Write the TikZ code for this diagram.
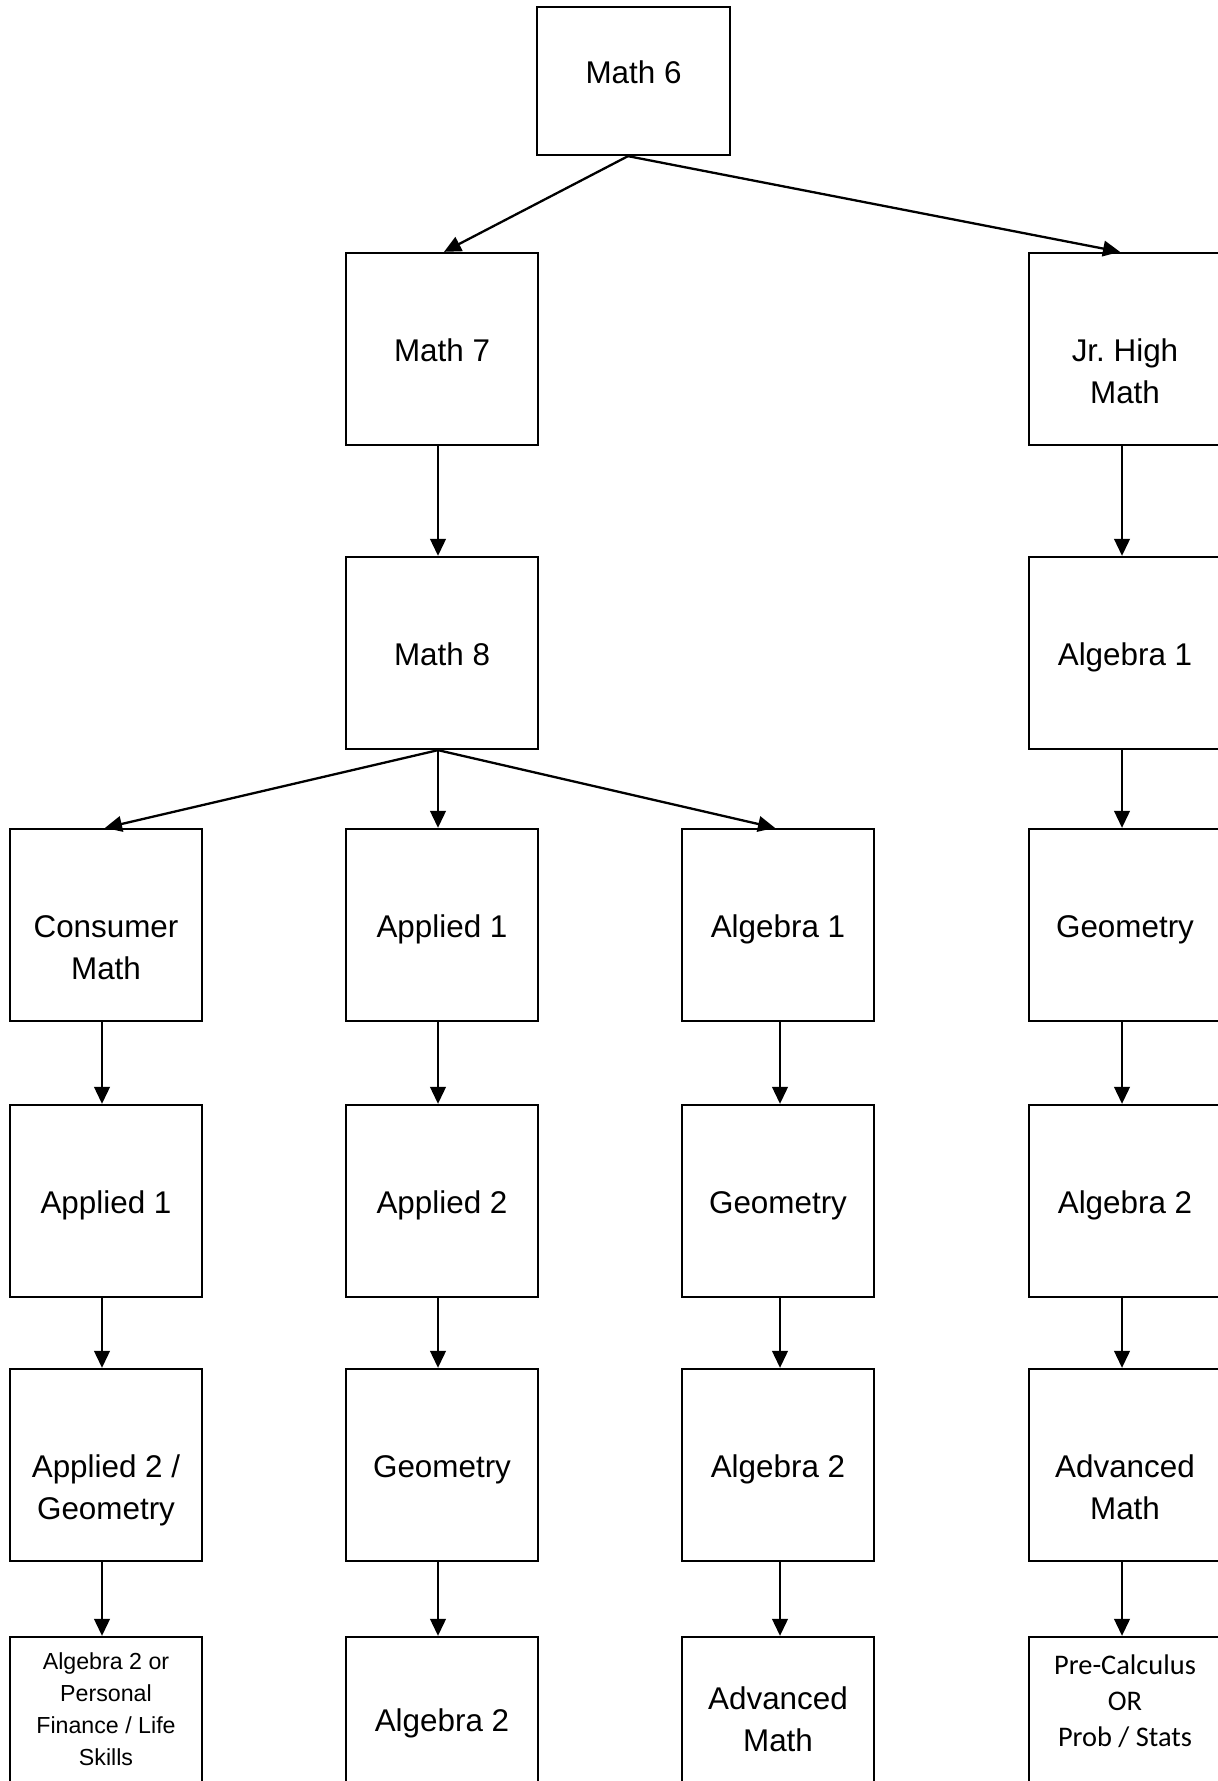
\documentclass[tikz,border=0pt]{standalone}
\usepackage{fontspec}
\setmainfont{Liberation Sans}
\newfontfamily\calib{Carlito}
\usetikzlibrary{calc,arrows.meta}
\frenchspacing
\begin{document}
\begin{tikzpicture}[x=0.5pt,y=-0.5pt,
  box/.style={draw=black, line width=1.15pt, minimum width=96pt, minimum height=96pt, inner sep=0pt},
  topbox/.style={box, minimum width=96.5pt, minimum height=74pt},
  txt/.style={anchor=base, inner sep=0pt, align=center, font=\fontsize{15.7pt}{21pt}\selectfont},
  small/.style={txt, font=\fontsize{11.6pt}{16pt}\selectfont},
  cal/.style={txt, font=\calib\fontsize{14.2pt}{18pt}\selectfont},
  arr/.style={line width=1.15pt, -{Triangle[length=8.5pt,width=7.8pt]}}]
\fill[white] (0,0) rectangle (1217,1781);
\useasboundingbox (0,0) rectangle (1217,1781);

% boxes
\node[topbox] (m6) at (633.5,81) {};
\node[box] (m7) at (442,349) {};
\node[box] (jr) at (1125,349) {};
\node[box] (m8) at (442,653) {};
\node[box] (ja1) at (1125,653) {};
\node[box] (cm) at (106,925) {};
\node[box] (ap1) at (442,925) {};
\node[box] (al1) at (778,925) {};
\node[box] (jgeo) at (1125,925) {};
\node[box] (ap1b) at (106,1201) {};
\node[box] (ap2) at (442,1201) {};
\node[box] (geo3) at (778,1201) {};
\node[box] (jal2) at (1125,1201) {};
\node[box] (apgeo) at (106,1465) {};
\node[box] (geo2) at (442,1465) {};
\node[box] (al2c) at (778,1465) {};
\node[box] (jadv) at (1125,1465) {};
\node[box] (fin) at (106,1733) {};
\node[box] (al2b) at (442,1733) {};
\node[box] (adv3) at (778,1733) {};
\node[box] (pre) at (1125,1733) {};

% texts (anchor = baseline of the last line)
\node[txt] (m6t) at ($(m6.north)+(0,78)$) {Math 6};
\node[txt] (m7t) at ($(m7.north)+(0,110)$) {Math 7};
\node[txt] (jrt) at ($(jr.north)+(0,152)$) {Jr.\ High\\Math};
\node[txt] (m8t) at ($(m8.north)+(0,110)$) {Math 8};
\node[txt] (ja1t) at ($(ja1.north)+(0,110)$) {Algebra 1};
\node[txt] (cmt) at ($(cm.north)+(0,152)$) {Consumer\\Math};
\node[txt] (ap1t) at ($(ap1.north)+(0,110)$) {Applied 1};
\node[txt] (al1t) at ($(al1.north)+(0,110)$) {Algebra 1};
\node[txt] (jgeot) at ($(jgeo.north)+(0,110)$) {Geometry};
\node[txt] (ap1bt) at ($(ap1b.north)+(0,110)$) {Applied 1};
\node[txt] (ap2t) at ($(ap2.north)+(0,110)$) {Applied 2};
\node[txt] (geo3t) at ($(geo3.north)+(0,110)$) {Geometry};
\node[txt] (jal2t) at ($(jal2.north)+(0,110)$) {Algebra 2};
\node[txt] (apgeot) at ($(apgeo.north)+(0,152)$) {Applied 2 /\\Geometry};
\node[txt] (geo2t) at ($(geo2.north)+(0,110)$) {Geometry};
\node[txt] (al2ct) at ($(al2c.north)+(0,110)$) {Algebra 2};
\node[txt] (jadvt) at ($(jadv.north)+(0,152)$) {Advanced\\Math};
\node[small] (fint) at ($(fin.north)+(0,130)$) {Algebra 2 or\\Personal\\Finance / Life\\Skills};
\node[txt] (al2bt) at ($(al2b.north)+(0,96)$) {Algebra 2};
\node[txt] (adv3t) at ($(adv3.north)+(0,116)$) {Advanced\\Math};
\node[cal] (pret) at ($(pre.north)+(0,111)$) {Pre-Calculus\\OR\\Prob / Stats};

% connectors
\draw[arr] ($(m6.south)+(-5.5,0)$) -- ($(m7.north)+(2,0)$);
\draw[arr] ($(m6.south)+(-5.5,0)$) -- ($(jr.north)+(-5,0)$);
\draw[arr] ($(m7.south)+(-4,0)$) -- ($(m8.north)+(-4,0)$);
\draw[arr] ($(jr.south)+(-3,0)$) -- ($(ja1.north)+(-3,0)$);
\draw[arr] ($(m8.south)+(-4,0)$) -- ($(cm.north)+(-1,0)$);
\draw[arr] ($(m8.south)+(-4,0)$) -- ($(ap1.north)+(-4,0)$);
\draw[arr] ($(m8.south)+(-4,0)$) -- ($(al1.north)+(-3,0)$);
\draw[arr] ($(ja1.south)+(-3,0)$) -- ($(jgeo.north)+(-3,0)$);
\draw[arr] ($(cm.south)+(-4,0)$) -- ($(ap1b.north)+(-4,0)$);
\draw[arr] ($(ap1.south)+(-4,0)$) -- ($(ap2.north)+(-4,0)$);
\draw[arr] ($(al1.south)+(2,0)$) -- ($(geo3.north)+(2,0)$);
\draw[arr] ($(jgeo.south)+(-3,0)$) -- ($(jal2.north)+(-3,0)$);
\draw[arr] ($(ap1b.south)+(-4,0)$) -- ($(apgeo.north)+(-4,0)$);
\draw[arr] ($(ap2.south)+(-4,0)$) -- ($(geo2.north)+(-4,0)$);
\draw[arr] ($(geo3.south)+(2,0)$) -- ($(al2c.north)+(2,0)$);
\draw[arr] ($(jal2.south)+(-3,0)$) -- ($(jadv.north)+(-3,0)$);
\draw[arr] ($(apgeo.south)+(-4,0)$) -- ($(fin.north)+(-4,0)$);
\draw[arr] ($(geo2.south)+(-4,0)$) -- ($(al2b.north)+(-4,0)$);
\draw[arr] ($(al2c.south)+(2,0)$) -- ($(adv3.north)+(2,0)$);
\draw[arr] ($(jadv.south)+(-3,0)$) -- ($(pre.north)+(-3,0)$);
\end{tikzpicture}
\end{document}
